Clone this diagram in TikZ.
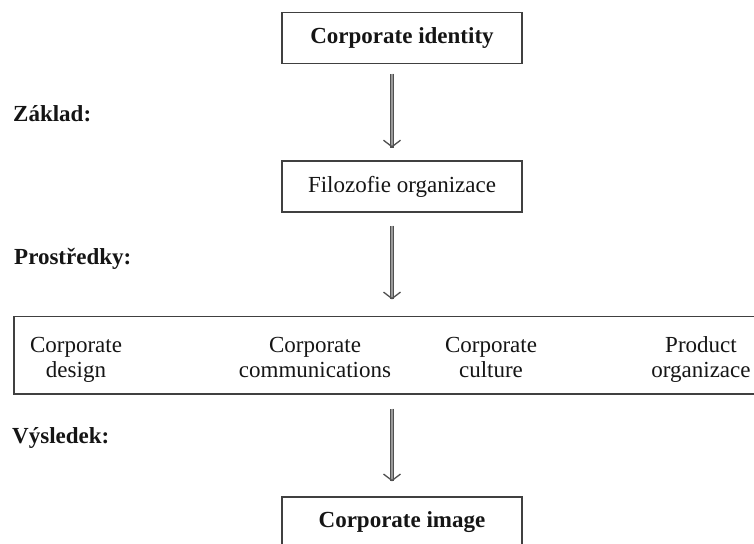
\documentclass[tikz,border=0pt]{standalone}
\usepackage{fontspec}
\setmainfont{Liberation Serif}
\usetikzlibrary{arrows.meta}
\definecolor{edge}{HTML}{404040}
\definecolor{ink}{HTML}{151515}
\definecolor{shaftout}{HTML}{505050}
\definecolor{shaftin}{HTML}{9A9A9A}
\tikzset{
  txt/.style={font=\fontsize{23}{25}\selectfont, text=ink},
  lbl/.style={txt, font=\fontsize{23}{25}\selectfont\bfseries, inner sep=0pt, anchor=base west},
  box/.style={txt, draw=edge, line width=1.3pt, minimum width=240pt, minimum height=51pt, inner sep=0pt},
  boldbox/.style={box, font=\fontsize{23}{25}\selectfont\bfseries},
  item/.style={txt, align=center, inner sep=0pt, anchor=north},
  flow/.style={draw=shaftin, line width=1.3pt,
    -{Straight Barb[length=6.5pt, width=17pt, line width=1.3pt, color=shaftout]},
    preaction={draw=shaftout, line width=3.4pt, -}}
}
\begin{document}
\begin{tikzpicture}[x=1pt, y=-1pt]
\useasboundingbox (0,0) rectangle (754,543);
\clip (0,0) rectangle (754,543);
\fill[white] (0,0) rectangle (754,543);

% boxes of the chain
\node[boldbox] (ident) at (402,37.8) {Corporate identity};
\node[box] (filo) at (402,186.4) {Filozofie organizace};
\node[draw=edge, line width=1.3pt, minimum width=746pt, minimum height=77.3pt, inner sep=0pt] (means) at (387,355.4) {};
\node[boldbox] (image) at (402,522.5) {Corporate image};

% items inside the wide box
\node[item] (cd) at (76,337.3) {Corporate\\design};
\node[item] (cc) at (315,337.3) {Corporate\\communications};
\node[item] (cu) at (491,337.3) {Corporate\\culture};
\node[item] (po) at (701,336.6) {Product\\organizace};

% side labels
\node[lbl] (zaklad) at (13,121) {Základ:};
\node[lbl] (prost) at (14,264) {Prostředky:};
\node[lbl] (vysl) at (12,443) {Výsledek:};

% arrows
\coordinate (ax) at (392,0);
\draw[flow, shorten <=9.7pt, shorten >=12.7pt] (ident.south -| ax) -- (filo.north -| ax);
\draw[flow, shorten <=13pt, shorten >=16.7pt] (filo.south -| ax) -- (means.north -| ax);
\draw[flow, shorten <=14pt, shorten >=15pt] (means.south -| ax) -- (image.north -| ax);
\end{tikzpicture}
\end{document}
